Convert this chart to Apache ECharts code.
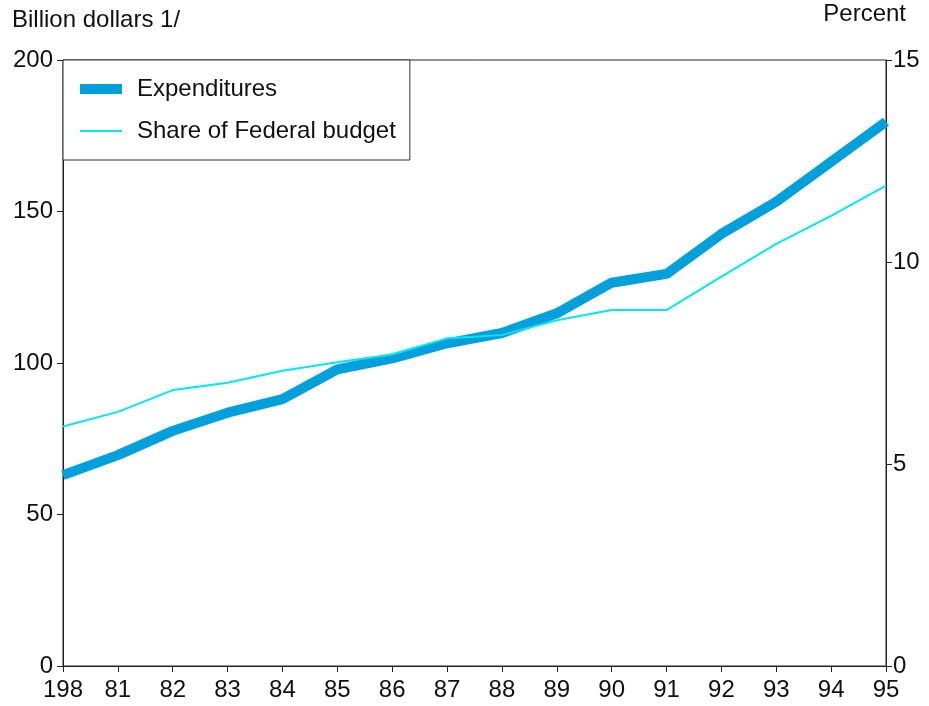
<!DOCTYPE html>
<html>
<head>
<meta charset="utf-8">
<script src="https://cdn.jsdelivr.net/npm/echarts@6/dist/echarts.min.js"></script>
<style>
  html, body { margin: 0; padding: 0; background: #fff; }
  #main { width: 929px; height: 706px; }
</style>
</head>
<body>
<div id="main"></div>
<script>
var years = ['198', '81', '82', '83', '84', '85', '86', '87', '88', '89', '90', '91', '92', '93', '94', '95'];
// billion dollars (left axis)
var expenditures = [63.0, 69.6, 77.6, 83.6, 88.1, 97.9, 101.5, 106.5, 109.9, 116.4, 126.5, 129.4, 142.6, 153.2, 166.4, 179.6];
// percent (right axis)
var shareBudget = [5.93, 6.29, 6.83, 7.01, 7.31, 7.52, 7.71, 8.11, 8.19, 8.56, 8.81, 8.81, 9.64, 10.45, 11.14, 11.89];

var font = 'Liberation Sans, Arial, sans-serif';
// thin legend line: tiny points at top and bottom keep the icon box 10px tall
var thinIcon = 'path://M0,0L0.01,0L0.01,0.01Z M0,4L42,4L42,6L0,6Z M0,10L0.01,10L0.01,9.99Z';

var myChart = echarts.init(document.getElementById('main'));
var option = {
    animation: false,
    textStyle: { fontFamily: font },
    grid: {
        left: 63,
        right: 43,
        top: 60,
        bottom: 40,
        show: true,
        borderColor: '#222',
        borderWidth: 1
    },
    graphic: [
        { type: 'text', left: 12, top: 8, style: { text: 'Billion dollars 1/', font: '24px ' + font, fill: '#111' } },
        { type: 'text', right: 23, top: 2, style: { text: 'Percent', font: '24px ' + font, fill: '#111' } }
    ],
    legend: {
        orient: 'vertical',
        left: 63,
        top: 60,
        padding: [17, 14, 17, 17],
        itemGap: 18,
        itemWidth: 42,
        itemHeight: 10,
        borderColor: '#333',
        borderWidth: 1,
        borderRadius: 0,
        backgroundColor: '#fff',
        textStyle: { fontSize: 24, lineHeight: 24, color: '#111', fontFamily: font, padding: [0, 0, 0, 10] },
        data: [
            { name: 'Expenditures', icon: 'rect' },
            { name: 'Share of Federal budget', icon: thinIcon }
        ]
    },
    xAxis: {
        type: 'category',
        boundaryGap: false,
        data: years,
        axisLine: { lineStyle: { color: '#222', width: 1 } },
        axisTick: { alignWithLabel: true, length: 6, lineStyle: { color: '#222' } },
        axisLabel: { interval: 0, fontSize: 24, color: '#111', margin: 12, fontFamily: font },
        splitLine: { show: false }
    },
    yAxis: [
        {
            type: 'value',
            min: 0,
            max: 200,
            interval: 50,
            axisLine: { show: true, lineStyle: { color: '#222' } },
            axisTick: { show: true, length: 6, lineStyle: { color: '#222' } },
            axisLabel: { fontSize: 24, color: '#111', margin: 10, fontFamily: font },
            splitLine: { show: false }
        },
        {
            type: 'value',
            min: 0,
            max: 15,
            interval: 5,
            axisLine: { show: true, lineStyle: { color: '#222' } },
            axisTick: { show: true, length: 6, lineStyle: { color: '#222' } },
            axisLabel: { fontSize: 24, color: '#111', margin: 7, fontFamily: font },
            splitLine: { show: false }
        }
    ],
    series: [
        {
            name: 'Share of Federal budget',
            type: 'line',
            yAxisIndex: 1,
            symbol: 'none',
            color: '#00E8F0',
            lineStyle: { width: 2, color: '#00E8F0' },
            data: shareBudget,
            z: 3
        },
        {
            name: 'Expenditures',
            type: 'line',
            yAxisIndex: 0,
            symbol: 'none',
            color: '#00A0DC',
            lineStyle: { width: 10, color: '#00A0DC' },
            data: expenditures,
            z: 2
        }
    ]
};
myChart.setOption(option);
</script>
</body>
</html>
